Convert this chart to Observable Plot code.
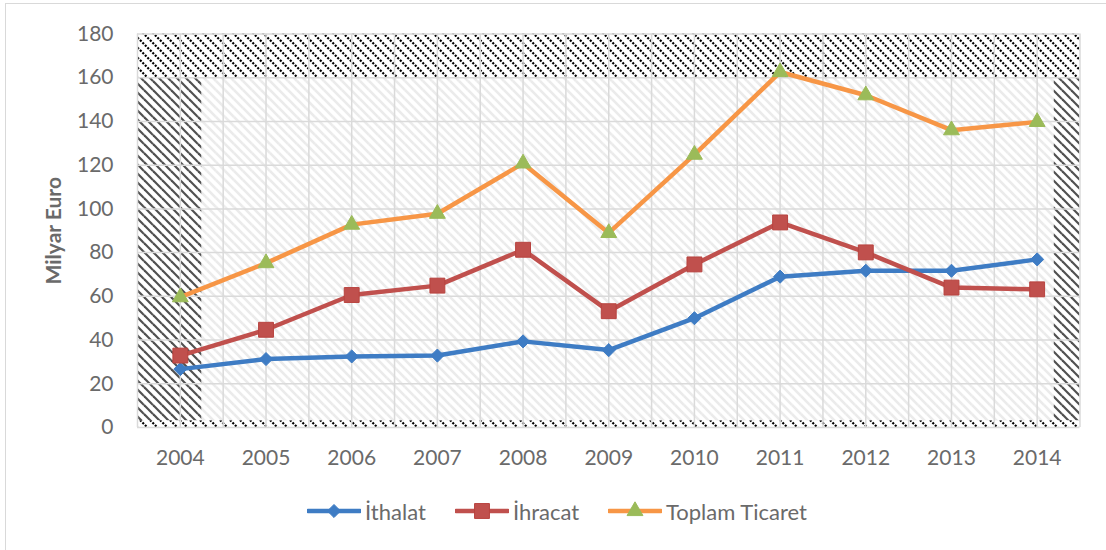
<!DOCTYPE html>
<html>
<head>
<meta charset="utf-8">
<script src="https://cdn.jsdelivr.net/npm/d3@7"></script>
<script src="https://cdn.jsdelivr.net/npm/@observablehq/plot@0.6"></script>
<style>
  html, body { margin: 0; padding: 0; background: #fff; }
  #wrap { position: relative; width: 1106px; height: 550px; overflow: hidden; font-family: Lato, "Open Sans", sans-serif; }
  #frame { position: absolute; left: 5px; top: 3px; width: 1110px; height: 560px; border-left: 1px solid #d9d9d9; border-top: 1px solid #d9d9d9; pointer-events: none; }
  #chart { position: absolute; left: 0; top: 0; }
  #legend { position: absolute; left: 0; top: 498px; width: 1106px; height: 26px; font-size: 22px; color: #6a6a6a; }
  .item { position: absolute; top: 0; display: flex; align-items: center; height: 26px; white-space: nowrap; }
  .item svg { margin-right: 4px; }
</style>
</head>
<body>
<div id="wrap">
  <div id="chart"></div>
  <div id="legend"></div>
  <div id="frame"></div>
</div>
<script>
// ---- data ----
const years = [2004, 2005, 2006, 2007, 2008, 2009, 2010, 2011, 2012, 2013, 2014];
const ithalat = [26.7, 31.3, 32.5, 32.9, 39.4, 35.4, 50.0, 69.0, 71.7, 71.7, 76.9];
const ihracat = [32.9, 44.7, 60.6, 64.9, 81.3, 53.2, 74.6, 93.8, 80.1, 64.0, 63.2];
const toplam = [59.6, 75.2, 92.8, 97.8, 120.8, 89.0, 124.8, 162.6, 152.0, 136.0, 139.8];
const seriesNames = ["İthalat", "İhracat", "Toplam Ticaret"];
const yTicks = [0, 20, 40, 60, 80, 100, 120, 140, 160, 180];
const yLabel = "Milyar Euro";
// hatched background bands (data units)
const darkBands = [
  {x1: 2003.5, x2: 2014.5, y1: 160, y2: 180},
  {x1: 2003.5, x2: 2014.5, y1: 0, y2: 3}
];
const grayBands = [
  {x1: 2003.5, x2: 2004.25, y1: 3, y2: 160},
  {x1: 2014.2, x2: 2014.5, y1: 3, y2: 160}
];
const fullBand = [{x1: 2003.5, x2: 2014.5, y1: 0, y2: 180}];

const colors = {"İthalat": "#3e7cc4", "İhracat": "#c0504d", "Toplam Ticaret": "#f79646"};
const markerFill = {"İthalat": "#3e7cc4", "İhracat": "#c0504d", "Toplam Ticaret": "#9bbb59"};
const markerStroke = {"İthalat": "#3e7cc4", "İhracat": "#b8433f", "Toplam Ticaret": "#9bbb59"};
const symbols = {"İthalat": "diamond2", "İhracat": "square", "Toplam Ticaret": "triangle"};
const radii = {"İthalat": 5.9, "İhracat": 8.4, "Toplam Ticaret": 5.9};
const legendLeft = {"İthalat": 307, "İhracat": 455, "Toplam Ticaret": 608};

const valuesBySeries = [ithalat, ihracat, toplam];
const rows = [];
seriesNames.forEach((s, i) => years.forEach((y, j) => rows.push({series: s, year: y, value: valuesBySeries[i][j]})));

const gridX = d3.range(years[0] - 0.5, years[years.length - 1] + 0.51, 0.5);

const marks = [
  Plot.rect(fullBand, {x1: "x1", x2: "x2", y1: "y1", y2: "y2", fill: "url(#hLight)"}),
  Plot.rect(grayBands, {x1: "x1", x2: "x2", y1: "y1", y2: "y2", fill: "url(#hGray)"}),
  Plot.rect(darkBands, {x1: "x1", x2: "x2", y1: "y1", y2: "y2", fill: "url(#hDark)"}),
  Plot.ruleY(yTicks, {stroke: "#dadada", strokeWidth: 1.5}),
  Plot.ruleX(gridX, {y1: 0, y2: 180, stroke: "#dadada", strokeWidth: 1.5}),
  Plot.line(rows, {x: "year", y: "value", z: "series", stroke: d => colors[d.series], strokeWidth: 4.5, strokeLinejoin: "round", strokeLinecap: "round"})
];
seriesNames.forEach(s => {
  marks.push(Plot.dot(rows.filter(d => d.series === s), {
    x: "year", y: "value", symbol: symbols[s], r: radii[s],
    fill: markerFill[s], stroke: markerStroke[s], strokeWidth: 1
  }));
});
marks.push(
  Plot.axisY(yTicks, {tickSize: 0, tickPadding: 24, fontSize: 21, fill: "#6a6a6a", label: null}),
  Plot.axisX(years, {tickSize: 0, tickPadding: 23, fontSize: 21, fill: "#6a6a6a", tickFormat: d => String(d), label: null}),
  Plot.text([yLabel], {frameAnchor: "middle", text: d => d, rotate: -90, fontSize: 21, fontWeight: "bold", fill: "#6a6a6a"})
);

const chart = Plot.plot({
  width: 1106,
  height: 485,
  marginTop: 33.5,
  marginBottom: 58,
  marginLeft: 137,
  marginRight: 26.5,
  style: {fontFamily: "Lato, 'Open Sans', sans-serif", background: "transparent", overflow: "visible"},
  x: {type: "linear", domain: [2003.5, 2014.5]},
  y: {domain: [0, 180]},
  marks
});

// patterns
const svg = d3.select(chart);
const defs = svg.insert("defs", ":first-child");
function hatch(id, size, stroke, width, bg, dash) {
  const p = defs.append("pattern").attr("id", id).attr("patternUnits", "userSpaceOnUse")
    .attr("width", size).attr("height", size);
  p.append("rect").attr("width", size).attr("height", size).attr("fill", bg);
  [[0, 0, size, size], [-size, 0, 0, size], [size, 0, 2 * size, size], [0, -size, size, 0], [0, size, size, 2 * size]]
    .forEach(([a, b, c, e]) => {
      const l = p.append("line").attr("x1", a).attr("y1", b).attr("x2", c).attr("y2", e)
        .attr("stroke", stroke).attr("stroke-width", width);
      if (dash) l.attr("stroke-dasharray", dash);
    });
}
hatch("hLight", 9, "#ebebeb", 2.6, "#ffffff");
hatch("hGray", 9, "#505050", 2.2, "#ffffff");
hatch("hDark", 10, "#000000", 2.2, "#ffffff", "2.1 1.4");

// move y label to proper x
svg.selectAll("text").filter(function() { return this.textContent === yLabel; })
  .each(function() {
    const t = d3.select(this);
    const tr = t.attr("transform") || "";
    const m = tr.match(/translate\(([^,]+),([^)]+)\)/);
    if (m) t.attr("transform", `translate(54,${+m[2]}) rotate(-90)`);
  });

document.getElementById("chart").appendChild(chart);

// legend
const legend = d3.select("#legend");
seriesNames.forEach(s => {
  const it = legend.append("div").attr("class", "item").style("left", legendLeft[s] + "px");
  const sw = it.append("svg").attr("width", 54).attr("height", 20);
  sw.append("line").attr("x1", 1).attr("x2", 53).attr("y1", 10).attr("y2", 10)
    .attr("stroke", colors[s]).attr("stroke-width", 4.5).attr("stroke-linecap", "round");
  const sym = {"diamond2": d3.symbolDiamond2, "square": d3.symbolSquare, "triangle": d3.symbolTriangle}[symbols[s]];
  sw.append("path").attr("transform", "translate(27,10)")
    .attr("d", d3.symbol(sym, radii[s] * radii[s] * Math.PI)())
    .attr("fill", markerFill[s]).attr("stroke", markerStroke[s]);
  it.append("span").text(s);
});
</script>
</body>
</html>
